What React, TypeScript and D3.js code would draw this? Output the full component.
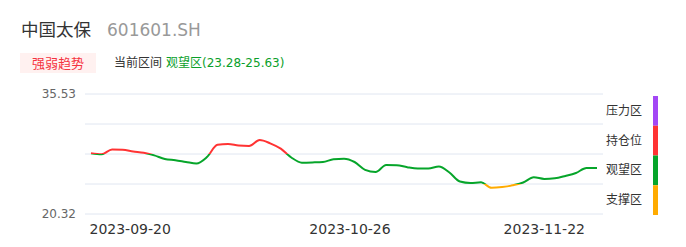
import React from "react";
import * as d3 from "d3";

const stockName = "中国太保";
const stockCode = "601601.SH";
const badgeText = "强弱趋势";
const rangeLabel = "当前区间";
const rangeValue = "观望区(23.28-25.63)";

const dates = [
  "2023-09-14","2023-09-15","2023-09-18","2023-09-19","2023-09-20","2023-09-21","2023-09-22",
  "2023-09-25","2023-09-26","2023-09-27","2023-09-28","2023-10-09","2023-10-10","2023-10-11",
  "2023-10-12","2023-10-13","2023-10-16","2023-10-17","2023-10-18","2023-10-19","2023-10-20",
  "2023-10-23","2023-10-24","2023-10-25","2023-10-26","2023-10-27","2023-10-30","2023-10-31",
  "2023-11-01","2023-11-02","2023-11-03","2023-11-06","2023-11-07","2023-11-08","2023-11-09",
  "2023-11-10","2023-11-13","2023-11-14","2023-11-15","2023-11-16","2023-11-17","2023-11-20",
  "2023-11-21","2023-11-22","2023-11-23","2023-11-24","2023-11-27","2023-11-28","2023-11-29",
];

const values = [
  28.02, 27.9, 28.5, 28.46, 28.25, 28.08, 27.75, 27.29, 27.13, 26.92, 26.72, 27.54, 29.09, 29.19,
  29.0, 28.94, 29.7, 29.28, 28.6, 27.48, 26.83, 26.86, 26.92, 27.25, 27.33, 26.91, 25.92, 25.64,
  26.53, 26.51, 26.25, 26.09, 26.1, 26.34, 25.58, 24.44, 24.25, 24.33, 23.64, 23.74, 23.96, 24.31,
  24.98, 24.77, 24.84, 25.14, 25.52, 26.15, 26.15,
];

const xTickDates = ["2023-09-20", "2023-10-26", "2023-11-22"];
const yMin = 20.32;
const yMax = 35.53;
const zoneNames = ["压力区", "持仓位", "观望区", "支撑区"];
const zoneColors = ["#a347f5", "#ff3333", "#06a52a", "#ffab00"];

const W = 686;
const H = 247;
const FONT = '"DejaVu Sans", "Noto Sans CJK SC", sans-serif';

export default function App() {
  const gridLeft = 85;
  const gridRight = 603;
  const top = 94;
  const bottom = 214;
  const y = d3.scaleLinear().domain([yMin, yMax]).range([bottom, top]);
  const x = d3.scalePoint<string>().domain(dates).range([91, 597]);
  const step = (yMax - yMin) / 4;
  const gridVals = d3.range(5).map((i) => yMin + i * step);
  const line = d3
    .line<number>()
    .x((_, i) => x(dates[i]) as number)
    .y((d) => y(d))
    .curve(d3.curveMonotoneX);
  const path = line(values) || "";

  // zone bands (top to bottom): pressure, holding, watch, support
  const bands = [0, 1, 2, 3].map((k) => {
    const hi = yMax - k * step;
    const lo = yMax - (k + 1) * step;
    return { y0: k === 0 ? 0 : y(hi), y1: k === 3 ? H : y(lo), color: zoneColors[k] };
  });

  const legendBar = d3.scaleBand<string>().domain(zoneNames).range([96, 215]);

  return (
    <svg width={W} height={H} style={{ position: "absolute", left: 0, top: 0, fontFamily: FONT }}>
      <text x={21} y={36} fontSize={17.5} fill="#333">{stockName}</text>
      <text x={107} y={36} fontSize={17} fill="#999">{stockCode}</text>

      <rect x={20} y={53} width={76} height={20} fill="#fff1f0" />
      <text x={58} y={68} fontSize={13} fill="#f5333f" textAnchor="middle">{badgeText}</text>
      <text x={114} y={67} fontSize={12} fill="#333">{rangeLabel}</text>
      <text x={166} y={67} fontSize={12} fill="#0aa02a">{rangeValue}</text>

      {gridVals.map((v, i) => (
        <line key={i} x1={gridLeft} x2={gridRight} y1={y(v)} y2={y(v)} stroke="#e0e6f1" strokeWidth={1} />
      ))}
      <text x={76} y={y(yMax) + 4} fontSize={12} fill="#666" textAnchor="end">{yMax.toFixed(2)}</text>
      <text x={76} y={y(yMin) + 4} fontSize={12} fill="#666" textAnchor="end">{yMin.toFixed(2)}</text>

      {xTickDates.map((d) => (
        <text key={d} x={(x(d) as number) - (d === "2023-10-26" ? -6 : d === "2023-09-20" ? 3 : 0)} y={234} fontSize={14} fill="#333" textAnchor="middle">{d}</text>
      ))}

      <defs>
        {bands.map((b, i) => (
          <clipPath key={i} id={`band${i}`}>
            <rect x={0} y={b.y0} width={W} height={b.y1 - b.y0} />
          </clipPath>
        ))}
      </defs>
      {bands.map((b, i) => (
        <path key={i} d={path} fill="none" stroke={b.color} strokeWidth={2} clipPath={`url(#band${i})`} strokeLinejoin="round" />
      ))}

      {zoneNames.map((n, i) => (
        <g key={n}>
          <rect x={653} y={legendBar(n) as number} width={5} height={legendBar.bandwidth()} fill={zoneColors[i]} />
          <text x={642} y={(legendBar(n) as number) + legendBar.bandwidth() / 2 + 4} fontSize={12} fill="#333" textAnchor="end">{n}</text>
        </g>
      ))}
    </svg>
  );
}
